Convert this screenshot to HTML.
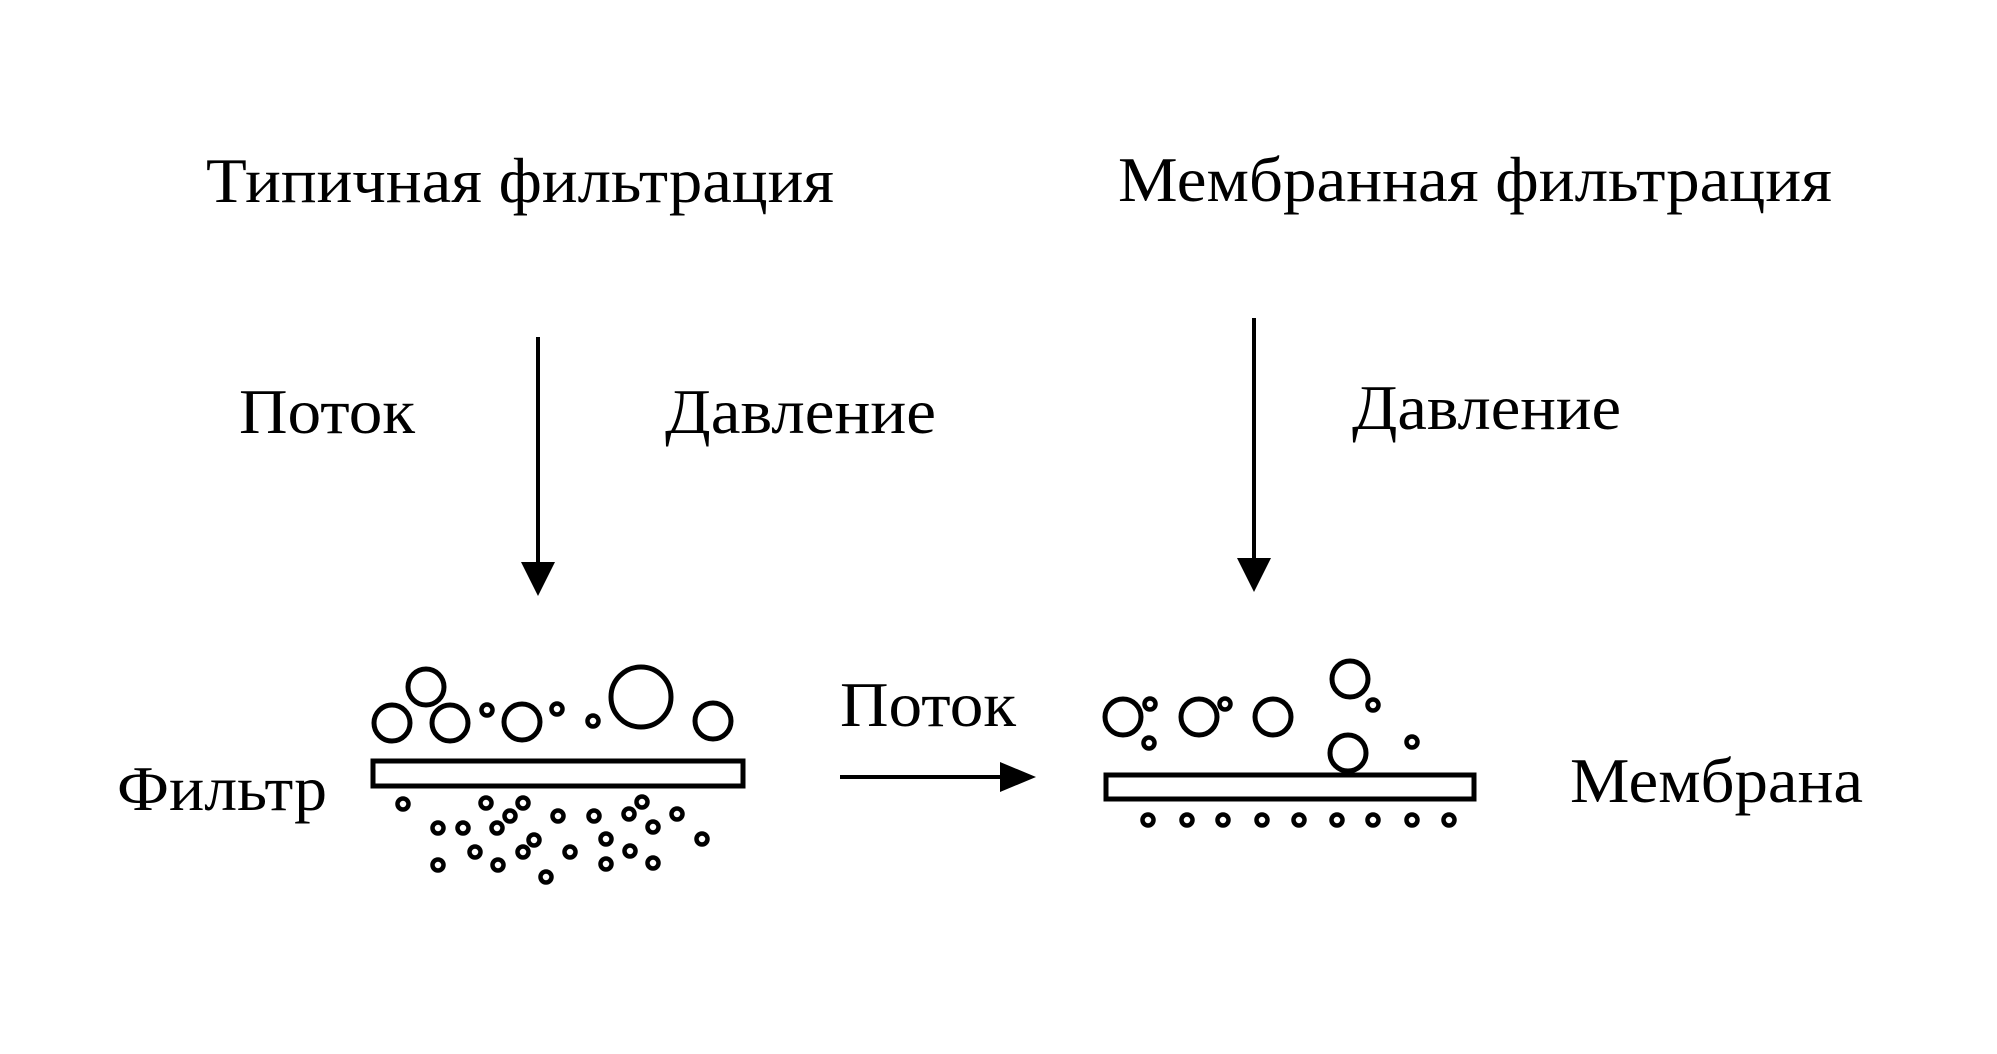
<!DOCTYPE html>
<html><head><meta charset="utf-8"><style>html,body{margin:0;padding:0;background:#fff}svg{display:block}</style></head>
<body>
<svg width="1997" height="1054" viewBox="0 0 1997 1054" xmlns="http://www.w3.org/2000/svg">
<g font-family="Liberation Serif, serif" font-size="64" fill="#000">
<text x="206" y="202" textLength="628" lengthAdjust="spacingAndGlyphs">Типичная фильтрация</text>
<text x="1118" y="201" textLength="714" lengthAdjust="spacingAndGlyphs">Мембранная фильтрация</text>
<text x="239" y="433" textLength="176" lengthAdjust="spacingAndGlyphs">Поток</text>
<text x="665" y="433" textLength="271" lengthAdjust="spacingAndGlyphs">Давление</text>
<text x="1352" y="429" textLength="269" lengthAdjust="spacingAndGlyphs">Давление</text>
<text x="840" y="726" textLength="176" lengthAdjust="spacingAndGlyphs">Поток</text>
<text x="117" y="810" textLength="210" lengthAdjust="spacingAndGlyphs">Фильтр</text>
<text x="1570" y="802" textLength="293" lengthAdjust="spacingAndGlyphs">Мембрана</text>
</g>
<g stroke="#000" stroke-width="4">
<line x1="538" y1="337" x2="538" y2="565"/>
<line x1="1254" y1="318" x2="1254" y2="560"/>
<line x1="840" y1="777" x2="1005" y2="777"/>
</g>
<polygon points="521,562 555,562 538,596" fill="#000"/>
<polygon points="1237,558 1271,558 1254,592" fill="#000"/>
<polygon points="1000,762 1000,792 1036,777" fill="#000"/>
<g fill="none" stroke="#000" stroke-width="5">
<rect x="373" y="761" width="370" height="25"/>
<rect x="1106" y="775" width="368" height="24"/>
<circle cx="392" cy="723" r="18"/>
<circle cx="426" cy="687" r="18"/>
<circle cx="450" cy="723" r="18"/>
<circle cx="522" cy="722" r="18"/>
<circle cx="641" cy="697" r="30"/>
<circle cx="713" cy="721" r="18"/>
<circle cx="1123" cy="717" r="18"/>
<circle cx="1199" cy="717" r="18"/>
<circle cx="1273" cy="717" r="18"/>
<circle cx="1350" cy="679" r="18"/>
<circle cx="1348" cy="753" r="18"/>
</g>
<g fill="none" stroke="#000" stroke-width="4.5">
<circle cx="487" cy="710" r="5.5"/><circle cx="557" cy="709" r="5.5"/><circle cx="593" cy="721" r="5.5"/>
<circle cx="1150" cy="704" r="5.5"/><circle cx="1149" cy="743" r="5.5"/><circle cx="1225" cy="704" r="5.5"/>
<circle cx="1373" cy="705" r="5.5"/><circle cx="1412" cy="742" r="5.5"/>
<circle cx="403" cy="804" r="5.5"/><circle cx="486" cy="803" r="5.5"/><circle cx="523" cy="803" r="5.5"/>
<circle cx="510" cy="816" r="5.5"/><circle cx="497" cy="828" r="5.5"/><circle cx="438" cy="828" r="5.5"/>
<circle cx="463" cy="828" r="5.5"/><circle cx="558" cy="816" r="5.5"/><circle cx="594" cy="816" r="5.5"/>
<circle cx="629" cy="814" r="5.5"/><circle cx="642" cy="802" r="5.5"/><circle cx="653" cy="827" r="5.5"/>
<circle cx="677" cy="814" r="5.5"/><circle cx="702" cy="839" r="5.5"/><circle cx="534" cy="840" r="5.5"/>
<circle cx="523" cy="852" r="5.5"/><circle cx="475" cy="852" r="5.5"/><circle cx="438" cy="865" r="5.5"/>
<circle cx="498" cy="865" r="5.5"/><circle cx="546" cy="877" r="5.5"/><circle cx="570" cy="852" r="5.5"/>
<circle cx="606" cy="839" r="5.5"/><circle cx="630" cy="851" r="5.5"/><circle cx="606" cy="864" r="5.5"/>
<circle cx="653" cy="863" r="5.5"/>
<circle cx="1148" cy="820" r="5.5"/><circle cx="1187" cy="820" r="5.5"/><circle cx="1223" cy="820" r="5.5"/>
<circle cx="1262" cy="820" r="5.5"/><circle cx="1299" cy="820" r="5.5"/><circle cx="1337" cy="820" r="5.5"/>
<circle cx="1373" cy="820" r="5.5"/><circle cx="1412" cy="820" r="5.5"/><circle cx="1449" cy="820" r="5.5"/>
</g>
</svg>
</body></html>
